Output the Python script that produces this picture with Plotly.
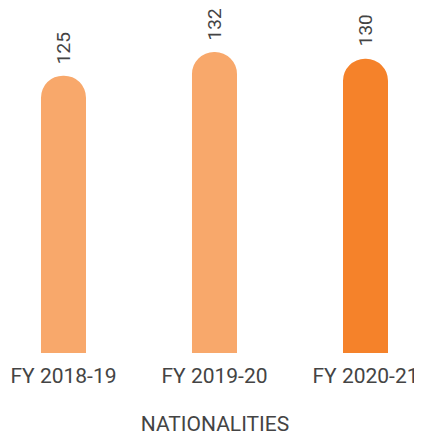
import plotly.graph_objects as go

categories = ["FY 2018-19", "FY 2019-20", "FY 2020-21"]
values = [125, 132, 130]
bar_colors = ["#F8A86B", "#F8A86B", "#F5822A"]
axis_title = "NATIONALITIES"

FONT = "Roboto"
TXT = "#444444"

fig = go.Figure()
fig.add_trace(go.Bar(
    x=categories,
    y=values,
    marker=dict(color=bar_colors, cornerradius=22, line=dict(width=0)),
    width=0.298,
    hoverinfo="skip",
))

for c, v in zip(categories, values):
    fig.add_annotation(
        x=c, y=v, text=str(v), textangle=-90, showarrow=False,
        xanchor="center", yanchor="bottom", yshift=10,
        font=dict(family=FONT, size=19, color=TXT),
    )

fig.update_layout(
    width=414, height=428,
    margin=dict(l=0, r=0, t=0, b=83),
    paper_bgcolor="white", plot_bgcolor="white",
    showlegend=False,
    font=dict(family=FONT, size=21, color=TXT),
    xaxis=dict(
        type="category",
        range=[-0.3675, 2.3742],
        automargin=False,
        showgrid=False, zeroline=False, showline=False, ticks="",
        ticklabelstandoff=8,
        tickfont=dict(family=FONT, size=21, color=TXT),
        title=dict(text=axis_title, font=dict(family=FONT, size=21, color=TXT), standoff=29),
    ),
    yaxis=dict(
        range=[43, 145.0],
        visible=False,
        automargin=False,
    ),
)

fig.write_html("out.html")
